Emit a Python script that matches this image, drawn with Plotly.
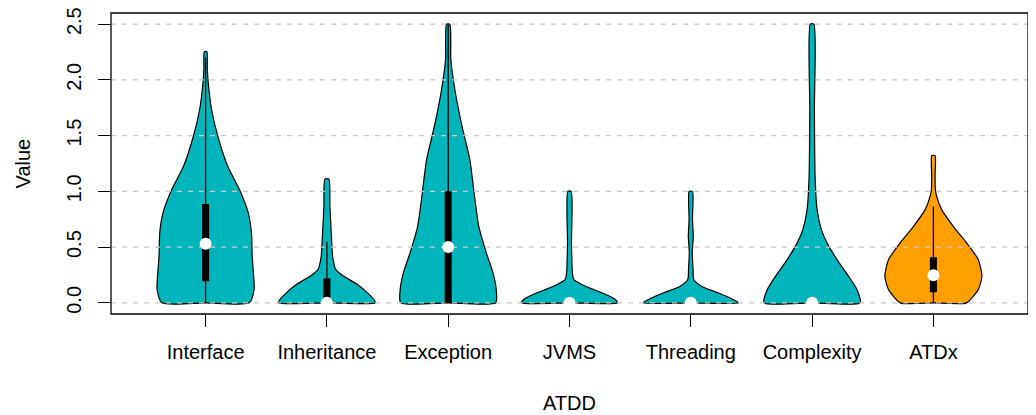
import plotly.graph_objects as go

# ---- data ----
categories = ["Interface", "Inheritance", "Exception", "JVMS", "Threading", "Complexity", "ATDx"]

# violin outlines: value levels and relative density (half-width, 1 = widest)
interface_vals = [0, 0.12, 0.27, 0.42, 0.63, 0.81, 1.015, 1.22, 1.49, 1.73, 1.97, 2.1, 2.254]
interface_dens = [0.90, 1.00, 0.985, 0.96, 0.945, 0.877, 0.70, 0.46, 0.255, 0.125, 0.055, 0.035, 0.027]

inheritance_vals = [0, 0.03, 0.09, 0.164, 0.238, 0.298, 0.418, 0.567, 0.866, 1.11]
inheritance_dens = [1.0, 0.97, 0.836, 0.63, 0.35, 0.185, 0.117, 0.097, 0.062, 0.041]

exception_vals = [0, 0.119, 0.269, 0.448, 0.686, 0.986, 1.284, 1.58, 1.88, 2.18, 2.5]
exception_dens = [0.98, 0.99, 0.924, 0.786, 0.63, 0.534, 0.446, 0.287, 0.15, 0.055, 0.035]

jvms_vals = [0, 0.03, 0.09, 0.149, 0.209, 0.269, 0.54, 1.0]
jvms_dens = [0.99, 0.945, 0.67, 0.33, 0.09, 0.06, 0.041, 0.035]

threading_vals = [0, 0.03, 0.09, 0.149, 0.209, 0.298, 0.45, 0.597, 0.75, 1.0]
threading_dens = [0.985, 0.87, 0.56, 0.22, 0.062, 0.047, 0.031, 0.051, 0.035, 0.035]

complexity_vals = [0, 0.119, 0.238, 0.388, 0.538, 0.657, 0.836, 1.134, 1.73, 2.5]
complexity_dens = [0.99, 0.924, 0.754, 0.513, 0.308, 0.191, 0.103, 0.062, 0.047, 0.037]

atdx_vals = [0, 0.119, 0.238, 0.388, 0.538, 0.686, 0.836, 0.955, 1.015, 1.15, 1.32]
atdx_dens = [0.684, 0.924, 1.0, 0.924, 0.684, 0.41, 0.17, 0.068, 0.041, 0.035, 0.035]

# box summaries
q1 = [0.194, 0.0, 0.0, 0.0, 0.0, 0.0, 0.095]
q3 = [0.887, 0.22, 1.0, 0.0, 0.0, 0.0, 0.409]
medians = [0.531, 0.0, 0.5, 0.0, 0.0, 0.0, 0.247]
whisker_lo = [0.0, 0.0, 0.0, 0.0, 0.0, 0.0, 0.0]
whisker_hi = [2.2, 0.55, 2.5, 0.0, 0.0, 0.0, 0.866]

y_ticks = [0.0, 0.5, 1.0, 1.5, 2.0, 2.5]
y_ticktext = ["0.0", "0.5", "1.0", "1.5", "2.0", "2.5"]

# ---- style ----
TEAL = "#00B6BA"
ORANGE = "#FFA000"
colors = [TEAL] * 6 + [ORANGE]
HALF = 0.4
FONT = "Liberation Sans, Arial, sans-serif"
FS = 20

profiles = [
    (interface_vals, interface_dens),
    (inheritance_vals, inheritance_dens),
    (exception_vals, exception_dens),
    (jvms_vals, jvms_dens),
    (threading_vals, threading_dens),
    (complexity_vals, complexity_dens),
    (atdx_vals, atdx_dens),
]

X0, X1 = 0.22, 7.78

fig = go.Figure()

# violins
for i, (vals, dens) in enumerate(profiles):
    c = i + 1
    xs = [c] + [c + HALF * d for d in dens] + [c - HALF * d for d in reversed(dens)] + [c]
    ys = [vals[0]] + list(vals) + list(reversed(vals)) + [vals[0]]
    fig.add_trace(go.Scatter(
        x=xs, y=ys, mode="lines", fill="toself", fillcolor=colors[i],
        line=dict(color="black", width=1.2, shape="spline", smoothing=0.6),
        hoverinfo="skip", showlegend=False))

# dashed gridlines (drawn over violins, under boxes)
for v in y_ticks:
    fig.add_trace(go.Scatter(
        x=[X0, X1], y=[v, v], mode="lines",
        line=dict(color="#C8C8C8", width=1.4, dash="5px,6px"),
        hoverinfo="skip", showlegend=False))

# whiskers, boxes, medians
for i in range(len(categories)):
    c = i + 1
    if whisker_hi[i] > whisker_lo[i]:
        fig.add_trace(go.Scatter(
            x=[c, c], y=[whisker_lo[i], whisker_hi[i]], mode="lines",
            line=dict(color="black", width=1.3), hoverinfo="skip", showlegend=False))
    if q3[i] > q1[i]:
        fig.add_trace(go.Scatter(
            x=[c, c], y=[q1[i], q3[i]], mode="lines",
            line=dict(color="black", width=7), hoverinfo="skip", showlegend=False))

fig.add_trace(go.Scatter(
    x=list(range(1, len(categories) + 1)), y=medians, mode="markers",
    marker=dict(color="white", size=12, line=dict(width=0)),
    hoverinfo="skip", showlegend=False))

# the page body has an 8px margin, so the figure is 8px smaller and offset
fig.update_layout(
    width=1028, height=407,
    margin=dict(l=103, r=8, t=5, b=101),
    paper_bgcolor="white", plot_bgcolor="white",
    font=dict(family=FONT, size=FS, color="black"),
    showlegend=False,
    xaxis=dict(
        range=[X0, X1], tickmode="array",
        tickvals=list(range(1, len(categories) + 1)), ticktext=categories,
        ticks="outside", ticklen=12, tickwidth=1, tickcolor="black",
        showgrid=False, zeroline=False, showline=False,
        tickfont=dict(family=FONT, size=FS, color="black"),
        ticklabelstandoff=8, automargin=False, ticklabeloverflow="allow",
    ),
    yaxis=dict(
        range=[-0.1, 2.6], tickmode="array", tickvals=y_ticks, ticktext=y_ticktext,
        ticks="outside", ticklen=12, tickwidth=1, tickcolor="black",
        showgrid=False, zeroline=False, showline=False, tickangle=-90,
        tickfont=dict(family=FONT, size=FS, color="black"),
        ticklabelstandoff=9, automargin=False, ticklabeloverflow="allow",
    ),
    shapes=[dict(type="rect", xref="paper", yref="paper", x0=0, y0=0, x1=1, y1=1,
                 line=dict(color="black", width=1.3), layer="above")],
    annotations=[
        dict(text="Value", xref="paper", yref="paper", x=-0.096, y=0.5,
             xanchor="center", yanchor="middle", textangle=-90, showarrow=False,
             font=dict(family=FONT, size=FS, color="black")),
        dict(text="ATDD", xref="paper", yref="paper", x=0.5, y=-0.296,
             xanchor="center", yanchor="middle", showarrow=False,
             font=dict(family=FONT, size=FS, color="black")),
    ],
)

fig.write_html("out.html")
